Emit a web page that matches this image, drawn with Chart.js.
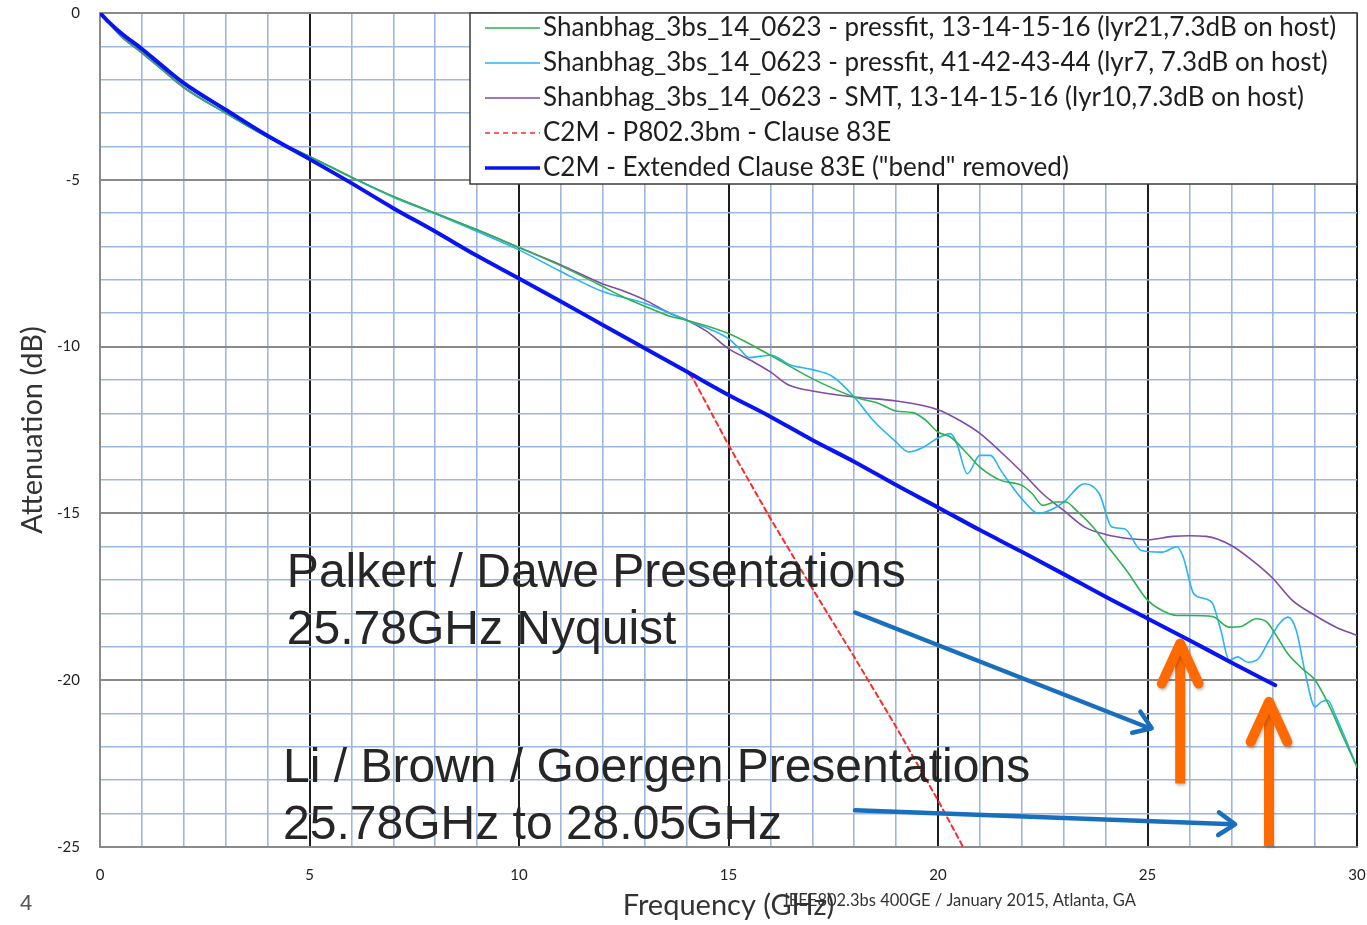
<!DOCTYPE html>
<html><head><meta charset="utf-8">
<script src="https://cdn.jsdelivr.net/npm/chart.js@4.4.1/dist/chart.umd.min.js"></script>
<style>html,body{margin:0;padding:0;background:#fff;}#wrap{width:1367px;height:925px;position:relative}</style>
</head><body><div id="wrap"><canvas id="c" width="1367" height="925"></canvas></div>
<script>
// ---------- DATA ----------
const xTickLabels = [0, 5, 10, 15, 20, 25, 30];
const yTickLabels = [0, -5, -10, -15, -20, -25];

const greenFreq = [0,0.5,1,1.5,2,3,4,5,6,7,8,9,10,11,12,12.4,13,13.6,14,15,16,17,18,18.6,19,19.4,19.7,20,20.3,20.7,21,21.5,22,22.25,22.5,22.8,23.05,23.3,23.7,24,24.5,25,25.35,25.7,26,26.55,26.95,27.2,27.6,27.85,28.05,28.35,28.7,29,29.35,29.65,30];
const greenDb   = [0,-0.68,-1.18,-1.7,-2.22,-3.0,-3.72,-4.3,-4.92,-5.5,-6.0,-6.5,-7.03,-7.58,-8.2,-8.46,-8.79,-9.09,-9.21,-9.61,-10.26,-10.96,-11.51,-11.71,-11.93,-11.98,-12.2,-12.56,-12.71,-13.21,-13.61,-14.01,-14.16,-14.41,-14.76,-14.66,-14.66,-14.91,-15.41,-15.91,-16.71,-17.6,-17.91,-18.06,-18.06,-18.09,-18.41,-18.4,-18.16,-18.26,-18.61,-19.21,-19.66,-20.0,-20.8,-21.65,-22.6];

const cyanFreq = [0,0.5,1,1.5,2,3,4,5,6,7,8,9,10,11,12,13,14,15,15.25,15.5,15.75,16,16.5,17,17.5,18,18.45,19,19.3,19.6,20,20.3,20.45,20.7,21,21.25,21.5,21.75,22,22.4,22.75,23,23.5,23.85,24.15,24.45,24.85,25.35,25.7,25.85,26.1,26.35,26.55,26.75,26.95,27.15,27.4,27.65,27.9,28.15,28.35,28.55,28.75,29.0,29.15,29.3,29.5,30];
const cyanDb   = [0,-0.68,-1.18,-1.7,-2.22,-3.0,-3.72,-4.3,-4.93,-5.52,-6.02,-6.55,-7.1,-7.75,-8.35,-8.7,-9.21,-9.76,-10.05,-10.33,-10.29,-10.26,-10.56,-10.69,-10.91,-11.51,-12.21,-12.86,-13.16,-13.05,-12.74,-12.61,-12.91,-13.81,-13.26,-13.26,-13.71,-14.16,-14.56,-15.0,-14.86,-14.66,-14.11,-14.41,-15.41,-15.46,-16.11,-16.16,-16.0,-16.3,-17.4,-17.55,-17.7,-18.5,-19.4,-19.3,-19.46,-19.35,-18.81,-18.3,-18.11,-18.5,-19.7,-20.8,-20.65,-20.6,-21.1,-22.6];

const purpleFreq = [0,0.5,1,1.5,2,3,4,5,6,7,8,9,10,11,12,12.4,13,13.6,14,14.5,15,15.6,16,16.45,17,18,19,20,20.5,21,21.5,22,22.5,23,23.5,24,24.6,25,25.6,26,26.4,27,27.5,28,28.45,29,29.5,30];
const purpleDb   = [0,-0.7,-1.2,-1.72,-2.24,-3.0,-3.72,-4.3,-4.92,-5.5,-6.0,-6.5,-7.03,-7.55,-8.12,-8.29,-8.6,-9.0,-9.2,-9.56,-10.06,-10.46,-10.76,-11.16,-11.33,-11.51,-11.63,-11.89,-12.2,-12.6,-13.16,-13.76,-14.41,-14.91,-15.41,-15.63,-15.76,-15.79,-15.69,-15.67,-15.69,-15.96,-16.41,-16.96,-17.6,-18.06,-18.41,-18.66];

const redFreq = [0,0.25,0.5,1,1.5,2,3,4,5,6,7,8,9,10,11,12,13,14,14.15,15,16,17,18,19,20,20.75];
const redDb   = [0,-0.32,-0.6,-1.08,-1.6,-2.1,-2.9,-3.68,-4.38,-5.1,-5.85,-6.55,-7.28,-7.96,-8.65,-9.35,-10.05,-10.75,-10.95,-12.95,-15.15,-17.25,-19.3,-21.4,-23.6,-25.35];

const blueFreq = [0,0.25,0.5,1,1.5,2,3,4,5,6,7,8,9,10,11,12,13,14,15,16,17,18,19,20,21,22,23,24,25,26,27,28.05];
const blueDb   = [0,-0.32,-0.6,-1.08,-1.6,-2.1,-2.9,-3.68,-4.38,-5.1,-5.85,-6.55,-7.28,-7.96,-8.65,-9.35,-10.05,-10.75,-11.45,-12.1,-12.8,-13.45,-14.15,-14.82,-15.5,-16.15,-16.82,-17.5,-18.15,-18.8,-19.47,-20.15];

const seriesLabels = [
  'Shanbhag_3bs_14_0623 - pressfit, 13-14-15-16 (lyr21,7.3dB on host)',
  'Shanbhag_3bs_14_0623 - pressfit, 41-42-43-44 (lyr7, 7.3dB on host)',
  'Shanbhag_3bs_14_0623 - SMT, 13-14-15-16 (lyr10,7.3dB on host)',
  'C2M - P802.3bm - Clause 83E',
  'C2M - Extended Clause 83E ("bend" removed)'
];

// annotation texts (positions in data units)
const noteLines = [
  {text:'Palkert / Dawe Presentations', x:4.46, y:-17.2},
  {text:'25.78GHz Nyquist', x:4.46, y:-18.9},
  {text:'Li / Brown / Goergen Presentations', x:4.37, y:-23.05},
  {text:'25.78GHz to 28.05GHz', x:4.37, y:-24.75}
];
const blueArrows = [
  {x1:18.02, y1:-17.97, x2:25.1, y2:-21.44},
  {x1:18.02, y1:-23.9, x2:27.09, y2:-24.32}
];
const orangeArrows = [
  {x:25.78, y1:-23.1, y2:-18.9},
  {x:27.9, y1:-24.97, y2:-20.65}
];

// ---------- CHART ----------
const pts = (f, d) => f.map((v, i) => ({x: v, y: d[i]}));

const annotPlugin = {
  id: 'annot',
  afterDraw(chart) {
    const {ctx, chartArea: a, scales: {x, y}} = chart;
    ctx.save();
    ctx.fillStyle = '#262626';
    ctx.font = '48px "Liberation Sans", Arial, sans-serif';
    ctx.textBaseline = 'alphabetic';
    ctx.textAlign = 'left';
    noteLines.forEach(n => ctx.fillText(n.text, x.getPixelForValue(n.x), y.getPixelForValue(n.y)));

    const arrowHead = (x1, y1, x2, y2, len, ang) => {
      const t = Math.atan2(y2 - y1, x2 - x1);
      ctx.beginPath();
      ctx.moveTo(x2 - len * Math.cos(t - ang), y2 - len * Math.sin(t - ang));
      ctx.lineTo(x2, y2);
      ctx.lineTo(x2 - len * Math.cos(t + ang), y2 - len * Math.sin(t + ang));
      ctx.stroke();
    };
    ctx.strokeStyle = '#1a6fbd';
    ctx.lineWidth = 4.5;
    ctx.lineCap = 'round';
    ctx.lineJoin = 'round';
    blueArrows.forEach(b => {
      const X1 = x.getPixelForValue(b.x1), Y1 = y.getPixelForValue(b.y1);
      const X2 = x.getPixelForValue(b.x2), Y2 = y.getPixelForValue(b.y2);
      ctx.beginPath(); ctx.moveTo(X1, Y1); ctx.lineTo(X2 - 2, Y2); ctx.stroke();
      arrowHead(X1, Y1, X2, Y2, 20, 0.6);
    });
    ctx.strokeStyle = '#ff6a00';
    ctx.lineWidth = 10;
    ctx.shadowColor = 'rgba(0,0,0,0.25)';
    ctx.shadowBlur = 3; ctx.shadowOffsetX = 1; ctx.shadowOffsetY = 2;
    orangeArrows.forEach(o => {
      const X = x.getPixelForValue(o.x), Y1 = y.getPixelForValue(o.y1), Y2 = y.getPixelForValue(o.y2);
      ctx.lineCap = 'butt';
      ctx.beginPath(); ctx.moveTo(X, Y1); ctx.lineTo(X, Y2 + 4); ctx.stroke();
      ctx.lineCap = 'round';
      arrowHead(X, Y1, X, Y2, 44, 0.43);
    });
    ctx.restore();

    // legend
    ctx.save();
    const L = a.right - 887, T = a.top, W = 887, H = 171;
    ctx.fillStyle = '#fff';
    ctx.fillRect(L, T, W, H);
    ctx.strokeStyle = '#3a3a3a';
    ctx.lineWidth = 1.5;
    ctx.strokeRect(L, T, W, H);
    ctx.font = '26px Lato, "Open Sans", sans-serif';
    ctx.textBaseline = 'middle';
    ctx.fillStyle = '#1e1e1e';
    chart.data.datasets.forEach((ds, i) => {
      const cy = T + 15 + i * 35;
      ctx.save();
      ctx.strokeStyle = ds.borderColor;
      ctx.lineWidth = i === 4 ? 3.5 : 1.5;
      ctx.setLineDash(ds.borderDash || []);
      ctx.beginPath(); ctx.moveTo(L + 15, cy); ctx.lineTo(L + 70, cy); ctx.stroke();
      ctx.restore();
      ctx.fillText(ds.label, L + 73, cy);
    });
    ctx.restore();

    // footer
    ctx.save();
    ctx.fillStyle = '#555';
    ctx.font = '22px "Liberation Sans", Arial, sans-serif';
    ctx.textBaseline = 'alphabetic';
    ctx.fillText('4', 20, 910);
    ctx.fillStyle = '#333';
    ctx.font = '16.5px Lato, sans-serif';
    ctx.textAlign = 'center';
    ctx.fillText('IEEE802.3bs 400GE / January 2015, Atlanta, GA', 960, 906);
    ctx.restore();
  }
};

const gridBlue = '#9db8e0';

new Chart(document.getElementById('c'), {
  type: 'line',
  data: {
    datasets: [
      {label: seriesLabels[0], data: pts(greenFreq, greenDb), borderColor: '#2fb150', borderWidth: 1.6, order: 2, cubicInterpolationMode: 'monotone'},
      {label: seriesLabels[1], data: pts(cyanFreq, cyanDb), borderColor: '#27b4ef', borderWidth: 1.6, order: 3, cubicInterpolationMode: 'monotone'},
      {label: seriesLabels[2], data: pts(purpleFreq, purpleDb), borderColor: '#7f4ba6', borderWidth: 1.6, order: 4, cubicInterpolationMode: 'monotone'},
      {label: seriesLabels[3], data: pts(redFreq, redDb), borderColor: '#ff2a2a', borderWidth: 2, borderDash: [5, 4], order: 1},
      {label: seriesLabels[4], data: pts(blueFreq, blueDb), borderColor: '#0a14f0', borderWidth: 4, order: 0, cubicInterpolationMode: 'monotone'}
    ]
  },
  options: {
    responsive: false,
    animation: false,
    devicePixelRatio: 1,
    events: [],
    layout: {padding: {top: 13, right: 10, left: 0, bottom: 0}},
    elements: {point: {radius: 0}, line: {borderCapStyle: 'round', borderJoinStyle: 'round'}},
    plugins: {legend: {display: false}, tooltip: {enabled: false}},
    scales: {
      x: {
        type: 'linear', min: 0, max: 30,
        afterFit(s) { s.height = 78; s.paddingLeft = 0; s.paddingRight = 0; },
        ticks: {
          stepSize: 1, autoSkip: false, maxRotation: 0, padding: 19,
          color: '#222', font: {family: 'Lato', size: 15},
          callback: v => xTickLabels.includes(v) ? String(v) : ''
        },
        grid: {
          drawTicks: false,
          color: c => c.tick.value === 0 ? '#8a8a8a' : (c.tick.value % 5 === 0 ? '#1c1c1c' : gridBlue),
          lineWidth: c => c.tick.value % 5 === 0 ? 2 : 1.6
        },
        border: {display: true, color: '#8a8a8a', width: 2},
        title: {display: true, text: 'Frequency (GHz)', color: '#333', font: {family: 'Lato', size: 29}, padding: {top: 0, bottom: 2}}
      },
      y: {
        type: 'linear', min: -25, max: 0,
        afterFit(s) { s.width = 100; s.paddingTop = 0; s.paddingBottom = 0; },
        ticks: {
          stepSize: 1, autoSkip: false, padding: 20,
          color: '#222', font: {family: 'Lato', size: 15},
          callback: v => yTickLabels.includes(v) ? String(v) : ''
        },
        grid: {
          drawTicks: false,
          color: c => c.tick.value % 5 === 0 ? '#8a8a8a' : gridBlue,
          lineWidth: c => c.tick.value % 5 === 0 ? 2 : 1.6
        },
        border: {display: true, color: '#8a8a8a', width: 2},
        title: {display: true, text: 'Attenuation (dB)', color: '#333', font: {family: 'Lato', size: 29}, padding: {top: 15, bottom: 0}}
      }
    }
  },
  plugins: [annotPlugin]
});
</script>
</body></html>
